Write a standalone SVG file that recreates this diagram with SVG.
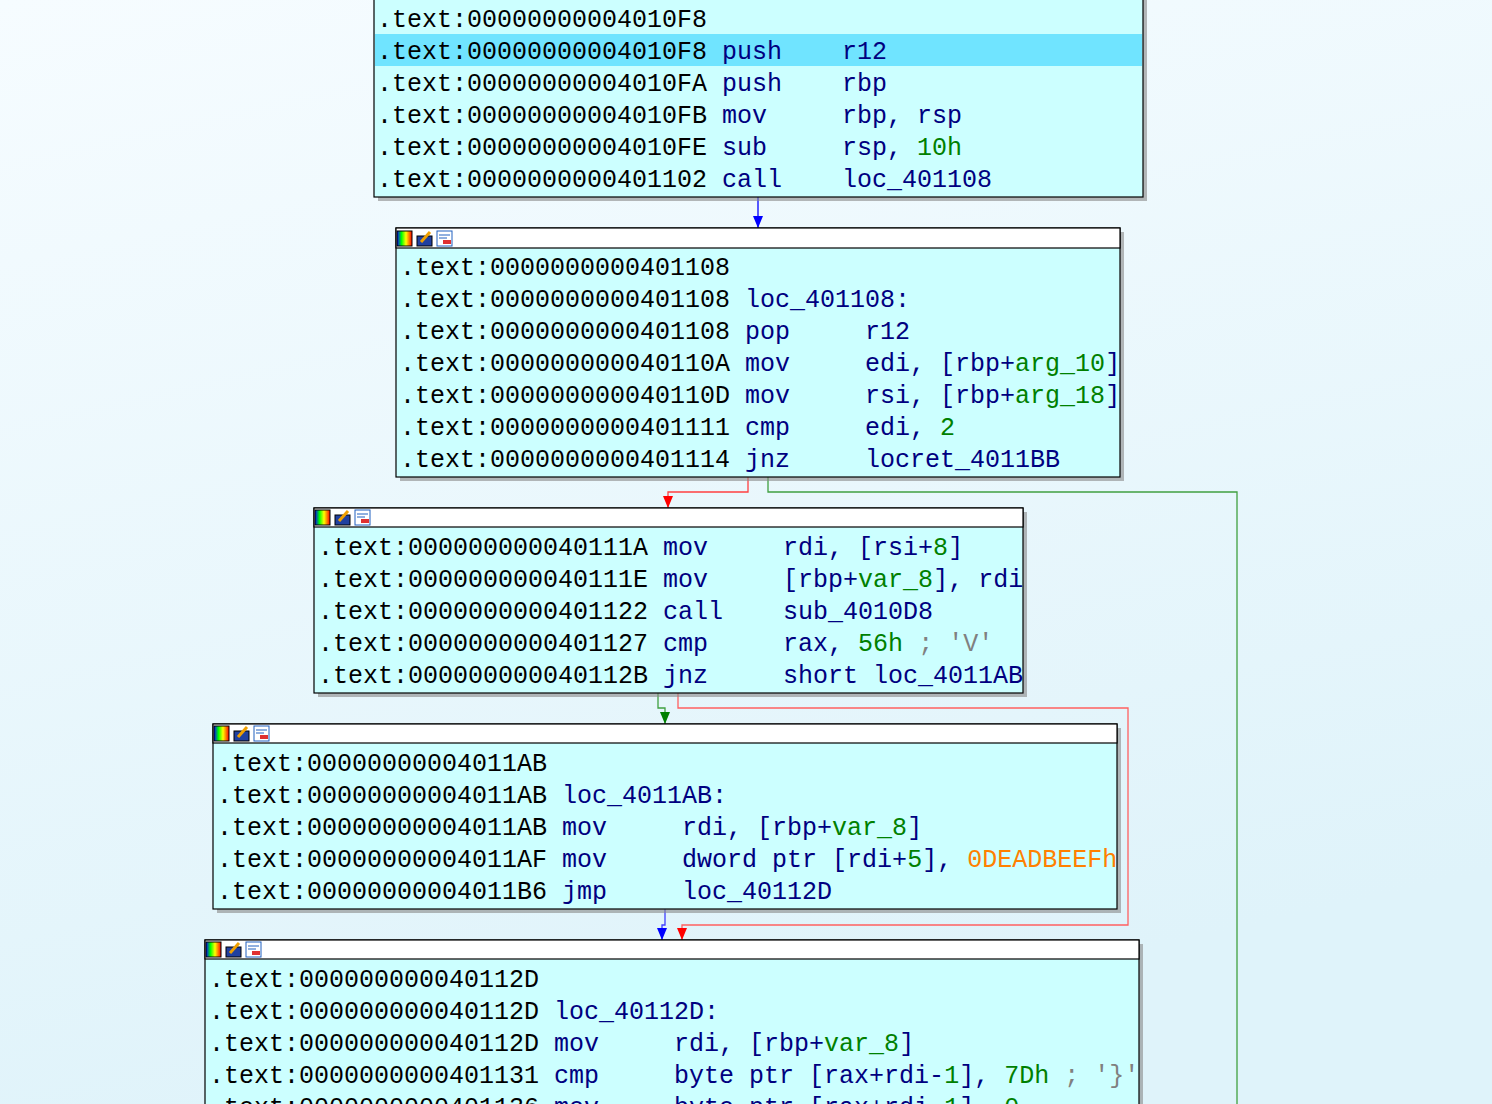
<svg xmlns="http://www.w3.org/2000/svg" width="1492" height="1104" viewBox="0 0 1492 1104">
<defs>
<linearGradient id="bg" x1="0" y1="0" x2="0.3" y2="1"><stop offset="0" stop-color="#f6fcff"/><stop offset="1" stop-color="#dff3fa"/></linearGradient>
<linearGradient id="ic1" x1="0" y1="0" x2="1" y2="0"><stop offset="0" stop-color="#00f"/><stop offset="0.3" stop-color="#0f0"/><stop offset="0.6" stop-color="#ff0"/><stop offset="1" stop-color="#f00"/></linearGradient>
<marker id="ab" markerWidth="10" markerHeight="12" refX="5" refY="12" markerUnits="userSpaceOnUse" viewBox="0 0 10 12"><path d="M0,0 L10,0 L5,12 Z" fill="#0000ff"/></marker>
<marker id="ar" markerWidth="10" markerHeight="12" refX="5" refY="12" markerUnits="userSpaceOnUse" viewBox="0 0 10 12"><path d="M0,0 L10,0 L5,12 Z" fill="#ff0000"/></marker>
<marker id="ag" markerWidth="10" markerHeight="12" refX="5" refY="12" markerUnits="userSpaceOnUse" viewBox="0 0 10 12"><path d="M0,0 L10,0 L5,12 Z" fill="#008000"/></marker>
<g id="icons"><rect x="0" y="1" width="15" height="15" fill="url(#ic1)" stroke="#000"/><rect x="20" y="6" width="15" height="10" fill="#2040a0" stroke="#000"/><path d="M24,12 L33,2" stroke="#f0a000" stroke-width="3"/><rect x="40" y="1" width="15" height="15" fill="#fff" stroke="#2060c0"/><path d="M42,5 H53 M42,8 H50" stroke="#2060c0"/><rect x="46" y="10" width="8" height="4" fill="#e03030"/></g>
</defs>
<style>
text{font-family:"Liberation Mono","DejaVu Sans Mono",monospace;font-size:25px;fill:#000;white-space:pre}
.m{fill:#000080}.n{fill:#008000}.c{fill:#808080}.o{fill:#ff8000}
.blk{fill:#ccffff;stroke:#000;stroke-width:1.2}
.hdr{fill:#fff;stroke:#000;stroke-width:1.2}
.sh{fill:#888;opacity:0.6}
.e{fill:none;stroke-width:1.3}
</style>
<rect width="1492" height="1104" fill="url(#bg)"/>
<g id="edges">
<path class="e" stroke="#0000ff" d="M758,197 V228" marker-end="url(#ab)"/>
<path class="e" stroke="#ff4040" d="M748,477 V492 H668 V508" marker-end="url(#ar)"/>
<path class="e" stroke="#40a040" d="M768,477 V492 H1237 V1104"/>
<path class="e" stroke="#40a040" d="M658,693 V708 H665 V724" marker-end="url(#ag)"/>
<path class="e" stroke="#ff6060" d="M678,693 V708 H1128 V925 H682 V940" marker-end="url(#ar)"/>
<path class="e" stroke="#4040ff" d="M665,909 V925 H662 V940" marker-end="url(#ab)"/>
</g>
<g id="n1">
<rect class="sh" x="378" y="-2" width="769" height="203"/>
<rect class="blk" x="374" y="-4" width="769" height="201"/>
<rect x="375" y="34" width="767" height="32" fill="#70e4ff"/>
<text x="377" y="27">.text:00000000004010F8</text>
<text x="377" y="59">.text:00000000004010F8 <tspan class="m">push    r12</tspan></text>
<text x="377" y="91">.text:00000000004010FA <tspan class="m">push    rbp</tspan></text>
<text x="377" y="123">.text:00000000004010FB <tspan class="m">mov     rbp, rsp</tspan></text>
<text x="377" y="155">.text:00000000004010FE <tspan class="m">sub     rsp, </tspan><tspan class="n">10h</tspan></text>
<text x="377" y="187">.text:0000000000401102 <tspan class="m">call    loc_401108</tspan></text>
</g>
<g id="n2">
<rect class="sh" x="400" y="232" width="724" height="249"/>
<rect class="blk" x="396" y="228" width="724" height="249"/>
<rect class="hdr" x="396" y="228" width="724" height="20"/>
<use href="#icons" x="397" y="230"/>
<text x="400" y="275">.text:0000000000401108</text>
<text x="400" y="307">.text:0000000000401108 <tspan class="m">loc_401108:</tspan></text>
<text x="400" y="339">.text:0000000000401108 <tspan class="m">pop     r12</tspan></text>
<text x="400" y="371">.text:000000000040110A <tspan class="m">mov     edi, [rbp+</tspan><tspan class="n">arg_10</tspan><tspan class="m">]</tspan></text>
<text x="400" y="403">.text:000000000040110D <tspan class="m">mov     rsi, [rbp+</tspan><tspan class="n">arg_18</tspan><tspan class="m">]</tspan></text>
<text x="400" y="435">.text:0000000000401111 <tspan class="m">cmp     edi, </tspan><tspan class="n">2</tspan></text>
<text x="400" y="467">.text:0000000000401114 <tspan class="m">jnz     locret_4011BB</tspan></text>
</g>
<g id="n3">
<rect class="sh" x="318" y="512" width="709" height="185"/>
<rect class="blk" x="314" y="508" width="709" height="185"/>
<rect class="hdr" x="314" y="508" width="709" height="19"/>
<use href="#icons" x="315" y="509"/>
<text x="318" y="555">.text:000000000040111A <tspan class="m">mov     rdi, [rsi+</tspan><tspan class="n">8</tspan><tspan class="m">]</tspan></text>
<text x="318" y="587">.text:000000000040111E <tspan class="m">mov     [rbp+</tspan><tspan class="n">var_8</tspan><tspan class="m">], rdi</tspan></text>
<text x="318" y="619">.text:0000000000401122 <tspan class="m">call    sub_4010D8</tspan></text>
<text x="318" y="651">.text:0000000000401127 <tspan class="m">cmp     rax, </tspan><tspan class="n">56h</tspan><tspan class="c"> ; 'V'</tspan></text>
<text x="318" y="683">.text:000000000040112B <tspan class="m">jnz     short loc_4011AB</tspan></text>
</g>
<g id="n4">
<rect class="sh" x="217" y="728" width="904" height="185"/>
<rect class="blk" x="213" y="724" width="904" height="185"/>
<rect class="hdr" x="213" y="724" width="904" height="19"/>
<use href="#icons" x="214" y="725"/>
<text x="217" y="771">.text:00000000004011AB</text>
<text x="217" y="803">.text:00000000004011AB <tspan class="m">loc_4011AB:</tspan></text>
<text x="217" y="835">.text:00000000004011AB <tspan class="m">mov     rdi, [rbp+</tspan><tspan class="n">var_8</tspan><tspan class="m">]</tspan></text>
<text x="217" y="867">.text:00000000004011AF <tspan class="m">mov     dword ptr [rdi+</tspan><tspan class="n">5</tspan><tspan class="m">], </tspan><tspan class="o">0DEADBEEFh</tspan></text>
<text x="217" y="899">.text:00000000004011B6 <tspan class="m">jmp     loc_40112D</tspan></text>
</g>
<g id="n5">
<rect class="sh" x="209" y="944" width="934" height="200"/>
<rect class="blk" x="205" y="940" width="934" height="200"/>
<rect class="hdr" x="205" y="940" width="934" height="19"/>
<use href="#icons" x="206" y="941"/>
<text x="209" y="987">.text:000000000040112D</text>
<text x="209" y="1019">.text:000000000040112D <tspan class="m">loc_40112D:</tspan></text>
<text x="209" y="1051">.text:000000000040112D <tspan class="m">mov     rdi, [rbp+</tspan><tspan class="n">var_8</tspan><tspan class="m">]</tspan></text>
<text x="209" y="1083">.text:0000000000401131 <tspan class="m">cmp     byte ptr [rax+rdi-</tspan><tspan class="n">1</tspan><tspan class="m">], </tspan><tspan class="n">7Dh</tspan><tspan class="c"> ; '}'</tspan></text>
<text x="209" y="1115">.text:0000000000401136 <tspan class="m">mov     byte ptr [rax+rdi-</tspan><tspan class="n">1</tspan><tspan class="m">], </tspan><tspan class="n">0</tspan></text>
</g>
</svg>
